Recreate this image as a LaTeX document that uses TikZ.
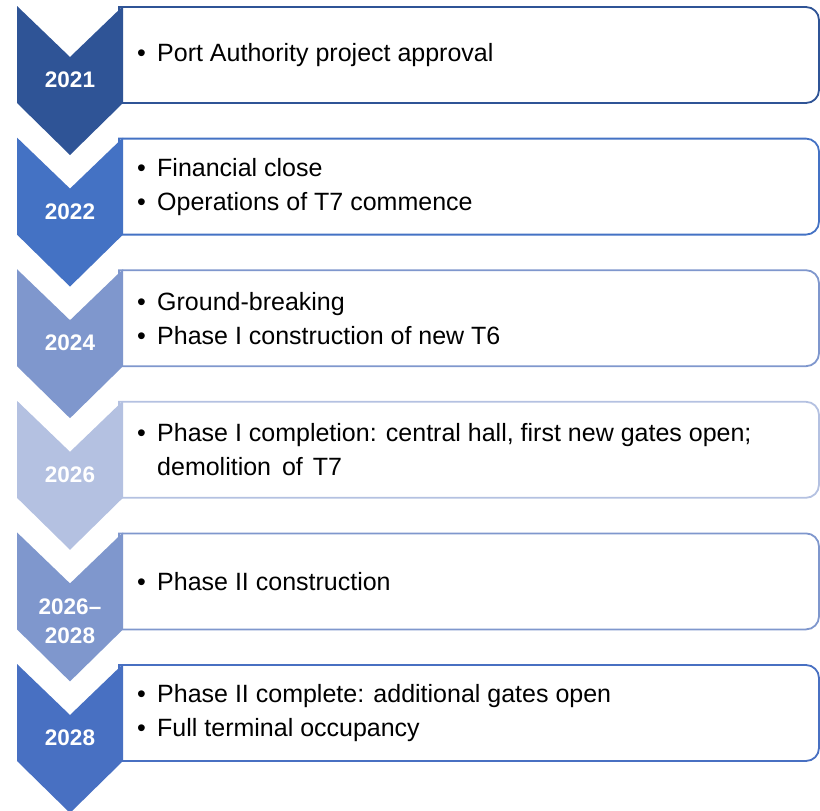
\documentclass[tikz,border=0pt]{standalone}
\usepackage{fontspec}
\setmainfont{Liberation Sans}
\definecolor{cA}{HTML}{2F5496}
\definecolor{cB}{HTML}{4472C4}
\definecolor{cC}{HTML}{7F97CD}
\definecolor{cD}{HTML}{B4C1E1}
\definecolor{cE}{HTML}{7F97CD}
\definecolor{cF}{HTML}{4870C2}
\newcommand\bul{\makebox[20pt][l]{\textbullet}}
\tikzset{
  yearlbl/.style={text=white, font=\fontsize{22.5}{29}\selectfont\bfseries, align=center, inner sep=0pt},
  itemtxt/.style={text=black, font=\fontsize{25}{34}\selectfont, align=left, anchor=west, inner sep=0pt},
  boxline/.style={line width=1.8pt, fill=white},
}
\newcommand\stage[3]{% top, colour, name
  \draw[boxline, draw=#2] (119,#1+1) [rounded corners=13pt] -- (819,#1+1) -- (819,#1+97) [sharp corners] -- (119,#1+97) -- cycle;
  \fill[#2] (17,#1) -- (70,#1+51) -- (123,#1) -- (123,#1+97) -- (70,#1+149) -- (17,#1+97) -- cycle;
}
\begin{document}
\begin{tikzpicture}[x=1pt,y=-1pt]
\useasboundingbox (0,0) rectangle (820,811);
\begin{scope}
\clip (0,0) rectangle (820,811);
\stage{6}{cA}{a}
\stage{137.6}{cB}{b}
\stage{269.2}{cC}{c}
\stage{400.8}{cD}{d}
\stage{532.4}{cE}{e}
\stage{664}{cF}{f}
\end{scope}
\node[yearlbl] (ya) at (70,80) {2021};
\node[yearlbl] (yb) at (70,211.6) {2022};
\node[yearlbl] (yc) at (70,343.2) {2024};
\node[yearlbl] (yd) at (70,474.8) {2026};
\node[yearlbl] (ye) at (70,621.5) {2026–\\2028};
\node[yearlbl] (yf) at (70,738) {2028};
\node[itemtxt] (ta) at (137,55) {\bul Port Authority project approval};
\node[itemtxt] (tb) at (137,186.6) {\bul Financial close\\\bul Operations of T7 commence};
\node[itemtxt] (tc) at (137,318.2) {\bul Ground-breaking\\\bul Phase I construction of new T6};
\node[itemtxt] (td) at (137,449.8) {\bul Phase I completion: central hall, first new gates open;\\\hspace*{20pt}demolition\hspace{4pt} of\hspace{3pt} T7};
\node[itemtxt] (te) at (137,581.4) {\bul Phase II construction};
\node[itemtxt] (tf) at (137,713) {\bul Phase II complete: additional gates open\\\bul Full terminal occupancy};
\end{tikzpicture}
\end{document}
